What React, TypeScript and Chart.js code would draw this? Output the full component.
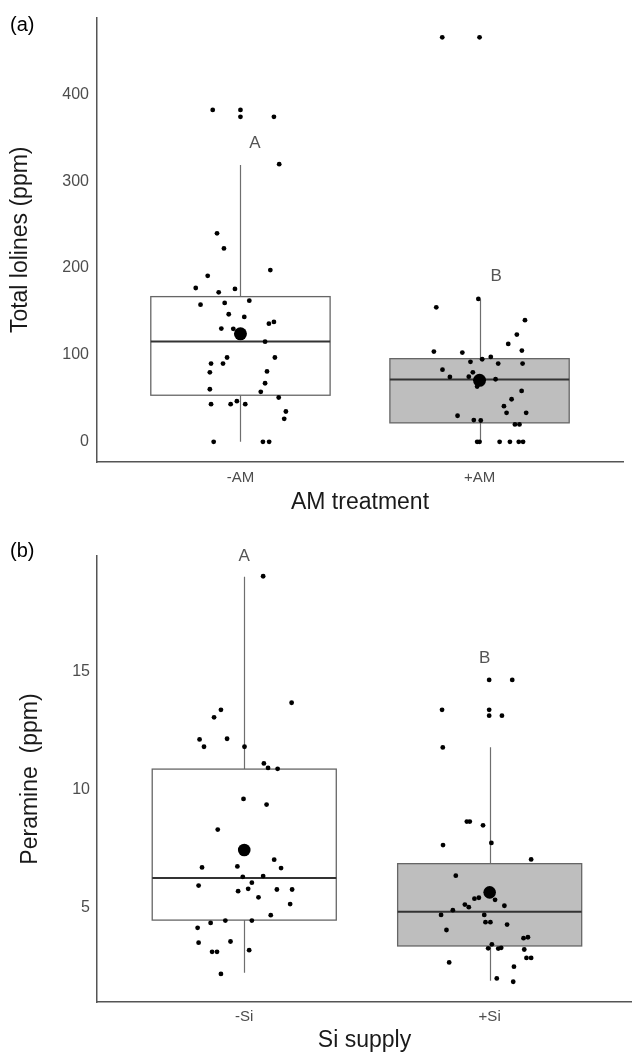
import React, { useEffect, useRef } from 'react';
import { Chart, registerables } from 'chart.js';

Chart.register(...registerables);

// ---------- Panel (a): Total lolines by AM treatment ----------
const categoriesA = ['-AM', '+AM'];
const yTicksA = [0, 100, 200, 300, 400];
const lolinesMinusAM = [382, 382, 374, 374, 319.5, 240, 222.6, 191, 197.7, 177, 172, 176, 162.4, 157.8, 159.8, 146.8, 143.7, 130.3, 130, 136, 138, 115.3, 97, 97, 90, 90, 80, 81, 67.4, 60.5, 57.5, 51, 43.3, 43.3, 46.8, 43.3, 34.9, 26.4, 0, 0, 0];
const jitterMinusAM = [-0.116, 0, 0, 0.14, 0.162, -0.098, -0.069, -0.137, 0.125, -0.187, -0.091, -0.023, 0.037, -0.167, -0.066, -0.049, 0.016, -0.08, -0.03, 0.119, 0.14, 0.103, -0.056, 0.144, -0.123, -0.073, -0.128, 0.111, 0.103, -0.128, 0.085, 0.16, -0.123, -0.041, -0.015, 0.02, 0.19, 0.183, -0.112, 0.094, 0.12];
const lolinesPlusAM = [465.5, 465.5, 164.4, 154.8, 140, 123.4, 112.6, 103.8, 102.7, 105, 95, 97.7, 92, 90, 90, 83, 80, 74.7, 75, 72, 63.6, 58.6, 49, 41, 33.3, 33.3, 30, 25, 24.5, 20, 20, 0, 0, 0, 0, 0, 0];
const jitterPlusAM = [-0.156, 0, -0.005, -0.181, 0.19, 0.156, 0.12, -0.191, -0.072, 0.177, 0.011, 0.047, -0.038, 0.078, 0.18, -0.155, -0.028, -0.124, -0.045, 0.067, -0.01, 0.176, 0.134, 0.102, 0.113, 0.195, -0.092, -0.024, 0.005, 0.148, 0.167, -0.01, 0, 0.084, 0.127, 0.164, 0.182];
const boxMinA = [0, 0];
const boxQ1A = [53.6, 21.8];
const boxMedianA = [115.5, 71.6];
const boxQ3A = [167.1, 95.7];
const boxMaxA = [318.5, 163.7];
const meanA = [124.3, 70.8];
const lettersA = ['A', 'B'];
const letterXA = [1.06, 2.07];
const letterYA = [344, 190];

// ---------- Panel (b): Peramine by Si supply ----------
const categoriesB = ['-Si', '+Si'];
const yTicksB = [5, 10, 15];
const peramineMinusSi = [19.07, 13.69, 13.39, 13.07, 12.13, 12.16, 11.82, 11.82, 11.11, 10.92, 10.88, 9.6, 9.36, 8.3, 6.69, 6.73, 7.02, 6.66, 6.29, 6.32, 5.92, 6.04, 5.68, 5.78, 5.75, 5.75, 5.42, 5.13, 4.66, 4.12, 4.33, 4.43, 4.43, 3.49, 3.54, 3.1, 3.1, 3.17, 2.16];
const jitterMinusSi = [0.077, 0.193, -0.095, -0.123, -0.182, -0.07, -0.164, 0.001, 0.08, 0.097, 0.136, -0.003, 0.091, -0.108, -0.172, -0.028, 0.122, 0.15, -0.006, 0.077, -0.186, 0.031, -0.025, 0.016, 0.133, 0.195, 0.058, 0.187, 0.108, -0.19, -0.137, -0.077, 0.031, -0.186, -0.056, -0.131, -0.111, 0.02, -0.095];
const peraminePlusSi = [14.66, 14.66, 13.39, 13.39, 13.14, 13.14, 11.79, 8.64, 8.64, 8.48, 7.64, 7.73, 7.03, 6.34, 5.36, 5.4, 5.31, 5.11, 5.0, 5.06, 4.87, 4.67, 4.67, 4.36, 4.36, 4.26, 4.03, 3.68, 3.72, 3.42, 3.25, 3.24, 3.27, 3.2, 2.84, 2.84, 2.65, 2.47, 1.97, 1.83];
const jitterPlusSi = [-0.002, 0.092, -0.194, -0.002, -0.002, 0.05, -0.191, -0.093, -0.081, -0.027, -0.19, 0.007, 0.169, -0.138, -0.062, -0.044, 0.022, -0.101, -0.085, 0.06, -0.15, -0.198, -0.022, -0.017, 0.003, 0.071, -0.176, 0.138, 0.156, 0.009, -0.006, 0.035, 0.047, 0.141, 0.15, 0.169, -0.165, 0.099, 0.029, 0.096];
const boxMinB = [2.21, 1.87];
const boxQ1B = [4.45, 3.35];
const boxMedianB = [6.24, 4.81];
const boxQ3B = [10.87, 6.85];
const boxMaxB = [19.05, 11.8];
const meanB = [7.43, 5.63];
const lettersB = ['A', 'B'];
const letterXB = [1.0, 1.98];
const letterYB = [19.9, 15.6];

const FONT = "'Liberation Sans', Arial, sans-serif";
const BOX_FILLS = ['#ffffff', '#bebebe'];

type PanelProps = {
  top: number;
  height: number;
  padTop: number;
  padRight: number;
  xAxisHeight: number;
  xMax: number;
  yMin: number;
  yMax: number;
  yTicks: number[];
  categories: string[];
  groups: number[][];
  jitters: number[][];
  mins: number[];
  q1s: number[];
  medians: number[];
  q3s: number[];
  maxs: number[];
  means: number[];
  meanRadius: number;
  letters: string[];
  letterX: number[];
  letterY: number[];
  yTitle: string;
  xTitle: string;
  yTitlePad: number;
  xTitlePad: number;
  yTickPad: number;
  xTickPad: number;
};

function Panel(p: PanelProps) {
  const ref = useRef<HTMLCanvasElement | null>(null);
  useEffect(() => {
    if (!ref.current) return;
    const boxPlugin = {
      id: 'boxes',
      beforeDatasetsDraw(chart: any) {
        const { ctx, scales } = chart;
        const x = scales.x;
        const y = scales.y;
        ctx.save();
        p.categories.forEach((_, i) => {
          const pos = i + 1;
          const cx = Math.round(x.getPixelForValue(pos)) + 0.5;
          const left = x.getPixelForValue(pos - 0.375);
          const right = x.getPixelForValue(pos + 0.375);
          const yq1 = y.getPixelForValue(p.q1s[i]);
          const yq3 = y.getPixelForValue(p.q3s[i]);
          const ymed = y.getPixelForValue(p.medians[i]);
          const ymin = y.getPixelForValue(p.mins[i]);
          const ymax = y.getPixelForValue(p.maxs[i]);
          ctx.strokeStyle = '#6e6e6e';
          ctx.lineWidth = 1.2;
          ctx.beginPath();
          ctx.moveTo(cx, yq3);
          ctx.lineTo(cx, ymax);
          ctx.moveTo(cx, yq1);
          ctx.lineTo(cx, ymin);
          ctx.stroke();
          ctx.fillStyle = BOX_FILLS[i];
          ctx.fillRect(left, yq3, right - left, yq1 - yq3);
          ctx.strokeStyle = '#666666';
          ctx.lineWidth = 1.3;
          ctx.strokeRect(left, yq3, right - left, yq1 - yq3);
          ctx.strokeStyle = '#333333';
          ctx.lineWidth = 2;
          ctx.beginPath();
          ctx.moveTo(left, ymed);
          ctx.lineTo(right, ymed);
          ctx.stroke();
        });
        ctx.restore();
      },
      afterDatasetsDraw(chart: any) {
        const { ctx, scales } = chart;
        ctx.save();
        ctx.fillStyle = '#555555';
        ctx.font = `17px ${FONT}`;
        ctx.textAlign = 'center';
        ctx.textBaseline = 'middle';
        p.letters.forEach((l, i) => {
          ctx.fillText(l, scales.x.getPixelForValue(p.letterX[i]), scales.y.getPixelForValue(p.letterY[i]));
        });
        ctx.restore();
      },
    };

    const points: { x: number; y: number }[] = [];
    p.groups.forEach((g, gi) => {
      g.forEach((v, j) => points.push({ x: gi + 1 + p.jitters[gi][j], y: v }));
    });
    const meanPts = p.means.map((m, i) => ({ x: i + 1, y: m }));

    const chart = new Chart(ref.current, {
      type: 'scatter',
      data: {
        datasets: [
          { data: meanPts, pointRadius: p.meanRadius, backgroundColor: '#000', borderWidth: 0 },
          { data: points, pointRadius: 2.4, backgroundColor: '#000', borderWidth: 0 },
        ],
      },
      options: {
        animation: false,
        responsive: false,
        devicePixelRatio: 1,
        events: [],
        layout: { autoPadding: false, padding: { left: 0, top: p.padTop, right: p.padRight, bottom: 0 } },
        plugins: { legend: { display: false }, tooltip: { enabled: false } },
        scales: {
          x: {
            type: 'linear',
            min: 0.4,
            max: p.xMax,
            grid: { display: false, drawTicks: false },
            border: { display: true, color: '#555555', width: 1.5 },
            afterBuildTicks: (s: any) => {
              s.ticks = p.categories.map((_, i) => ({ value: i + 1 }));
            },
            afterFit: (s: any) => {
              s.height = p.xAxisHeight;
            },
            ticks: {
              padding: p.xTickPad,
              color: '#4d4d4d',
              font: { family: FONT, size: 15 },
              maxRotation: 0,
              autoSkip: false,
              callback: (v: any) => p.categories[Math.round(Number(v)) - 1] ?? '',
            },
            title: {
              display: true,
              text: p.xTitle,
              color: '#1a1a1a',
              font: { family: FONT, size: 23 },
              padding: { top: 0, bottom: p.xTitlePad },
            },
          },
          y: {
            type: 'linear',
            min: p.yMin,
            max: p.yMax,
            grid: { display: false, drawTicks: false },
            border: { display: true, color: '#555555', width: 1.5 },
            afterBuildTicks: (s: any) => {
              s.ticks = p.yTicks.map((v) => ({ value: v }));
            },
            afterFit: (s: any) => {
              s.width = 97;
            },
            ticks: {
              padding: p.yTickPad,
              color: '#4d4d4d',
              font: { family: FONT, size: 16 },
              callback: (v: any) => String(v),
            },
            title: {
              display: true,
              text: p.yTitle,
              color: '#1a1a1a',
              font: { family: FONT, size: 23 },
              padding: { top: p.yTitlePad, bottom: 0 },
            },
          },
        },
      },
      plugins: [boxPlugin],
    } as any);
    return () => chart.destroy();
  }, []);
  return (
    <canvas
      ref={ref}
      width={632}
      height={p.height}
      style={{ position: 'absolute', left: 0, top: p.top, width: 632, height: p.height }}
    />
  );
}

export default function App() {
  return (
    <div style={{ position: 'absolute', left: 0, top: 0, width: 632, height: 1054, background: '#fff', overflow: 'hidden' }}>
      <Panel
        top={0}
        height={527}
        padTop={16}
        padRight={9}
        xAxisHeight={65}
        xMax={2.6}
        yMin={-23.25}
        yMax={488.25}
        yTicks={yTicksA}
        categories={categoriesA}
        groups={[lolinesMinusAM, lolinesPlusAM]}
        jitters={[jitterMinusAM, jitterPlusAM]}
        mins={boxMinA}
        q1s={boxQ1A}
        medians={boxMedianA}
        q3s={boxQ3A}
        maxs={boxMaxA}
        means={meanA}
        meanRadius={6.5}
        letters={lettersA}
        letterX={letterXA}
        letterY={letterYA}
        yTitle="Total lolines (ppm)"
        xTitle="AM treatment"
        yTitlePad={7}
        xTitlePad={11}
        yTickPad={8}
        xTickPad={7}
      />
      <Panel
        top={527}
        height={527}
        padTop={29}
        padRight={0}
        xAxisHeight={52}
        xMax={2.58}
        yMin={0.968}
        yMax={19.93}
        yTicks={yTicksB}
        categories={categoriesB}
        groups={[peramineMinusSi, peraminePlusSi]}
        jitters={[jitterMinusSi, jitterPlusSi]}
        mins={boxMinB}
        q1s={boxQ1B}
        medians={boxMedianB}
        q3s={boxQ3B}
        maxs={boxMaxB}
        means={meanB}
        meanRadius={6.3}
        letters={lettersB}
        letterX={letterXB}
        letterY={letterYB}
        yTitle="Peramine  (ppm)"
        xTitle="Si supply"
        yTitlePad={17}
        xTitlePad={0}
        yTickPad={7}
        xTickPad={6}
      />
      <div style={{ position: 'absolute', left: 10, top: 14, font: `20px ${FONT}`, lineHeight: '20px', color: '#000' }}>(a)</div>
      <div style={{ position: 'absolute', left: 10, top: 540, font: `20px ${FONT}`, lineHeight: '20px', color: '#000' }}>(b)</div>
    </div>
  );
}
